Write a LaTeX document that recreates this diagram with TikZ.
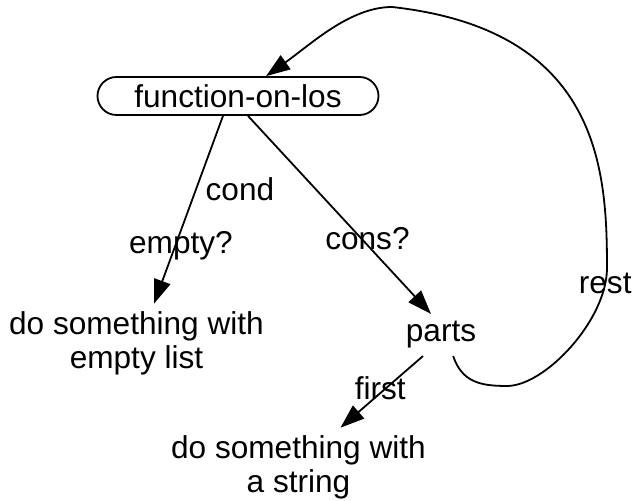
\documentclass[tikz,border=0pt]{standalone}
\usepackage{fontspec}
\setmainfont{Liberation Sans}
\usetikzlibrary{arrows.meta,shapes.misc}
\begin{document}
\begin{tikzpicture}[x=0.5pt,y=-0.5pt,font=\fontsize{15.8}{17}\selectfont,
        >={Triangle[length=12pt,width=8.5pt]}, line width=0.9pt]
        \useasboundingbox (0,0) rectangle (634,501);
        \tikzset{n/.style={align=center},
                 f/.style={draw, rounded rectangle, minimum width=140.5pt, minimum height=19pt, inner sep=0pt}}
        \draw node[f] (fn) at (238,96) {function-on-los};
        \draw node[n] (empty) at (136.5,343) {do something with\\empty list};
        \draw node[n] (parts) at (441,335) {parts};
        \draw node[n] (str) at (298.5,467) {do something with\\a string};

        \draw ([xshift=-7.5pt]fn.south) edge[->] node[pos=.39, right=1pt] {cond}
              node[pos=.69, xshift=2.8pt] {empty?} ([xshift=8.75pt]empty.north);
        \draw ([xshift=5pt]fn.south) edge[->] node[pos=.62, xshift=3pt] {cons?} ([xshift=-5pt]parts.north);
        \draw ([xshift=-9pt]parts.south) edge[->] node[pos=.445, xshift=-3pt] {first} ([xshift=21pt]str.north);
        % recursion on the rest of the list
        \draw[->] (parts.-60) .. controls (462,382) and (480,386) .. (507,386)
              .. controls (545,386) and (607,320) .. node[pos=.9] {rest} (607,268)
              .. controls (607,170) and (600,30) .. (392,7)
              .. controls (350,7) and (310,45) .. (fn);
    \end{tikzpicture}
\end{document}
